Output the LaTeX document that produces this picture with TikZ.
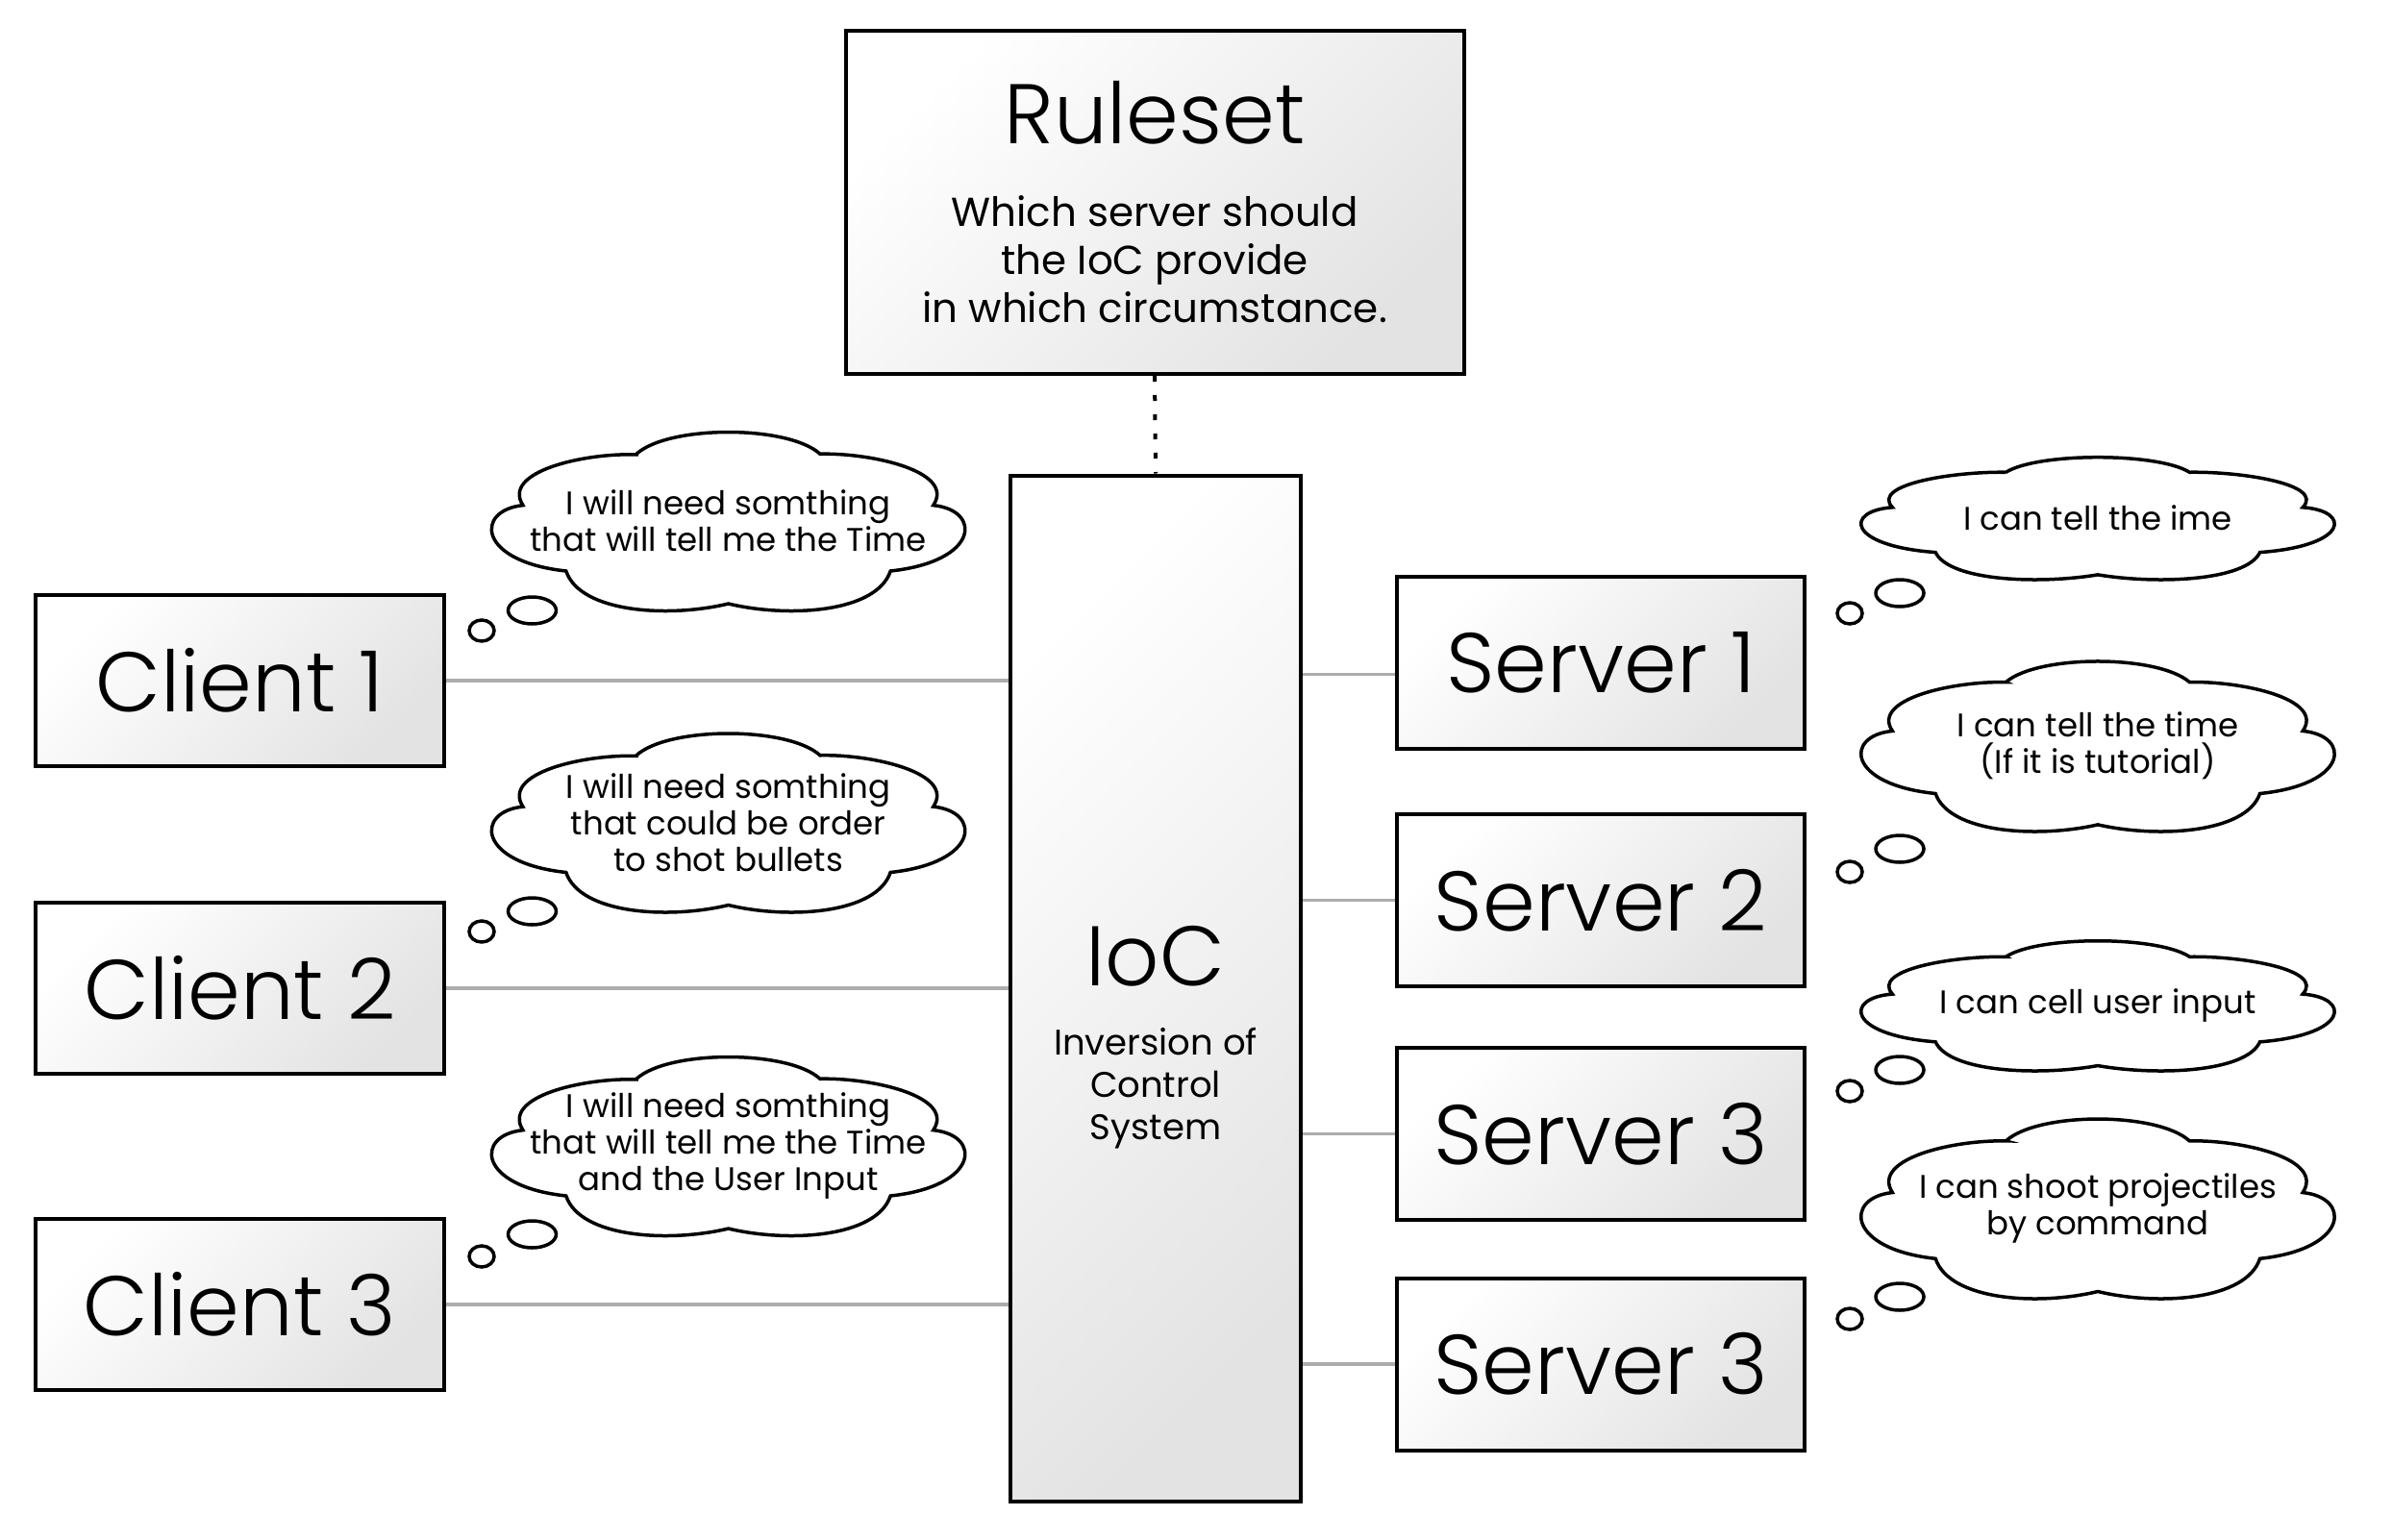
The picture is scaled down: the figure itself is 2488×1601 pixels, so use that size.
\documentclass[tikz,border=0pt]{standalone}
\usepackage{fontspec}
\setmainfont{Poppins}
\IfFontExistsTF{Poppins-Light.ttf}{\newfontfamily\thinfont{Poppins-Light.ttf}}{%
  \IfFontExistsTF{Poppins-Light.otf}{\newfontfamily\thinfont{Poppins-Light.otf}}{%
    \newfontfamily\thinfont{Poppins}}}
\usetikzlibrary{shapes.symbols}

\begin{document}
\begin{tikzpicture}[x=1pt, y=-1pt,
    box/.style={draw, line width=4pt, top color=white, bottom color=black!11, shading angle=45, inner sep=0pt, font=\thinfont\fontsize{88}{96}\selectfont},
    pics/thought/.style 2 args={code={
      \draw[line width=3.5pt, fill=white, xscale=#1, yscale=-#2]
        (-0.384,0.746) .. controls (-0.25,1.07) and (0.25,1.07) .. (0.383,0.746)
        .. controls (0.6,0.76) and (0.95,0.55) .. (0.856,0.175)
        .. controls (1.06,0.12) and (1.05,-0.45) .. (0.677,-0.556)
        .. controls (0.62,-1.02) and (0.25,-1.08) .. (0,-0.92)
        .. controls (-0.25,-1.08) and (-0.62,-1.02) .. (-0.678,-0.556)
        .. controls (-1.05,-0.45) and (-1.06,0.12) .. (-0.858,0.175)
        .. controls (-0.95,0.55) and (-0.6,0.76) .. cycle;
    }},
    bubble/.style={draw, line width=3.5pt, fill=white},
    wire/.style={draw=black!32, line width=3.5pt},
    dotline/.style={line width=4pt, dash pattern=on 6pt off 14pt},
    saying/.style={align=center, inner sep=0pt, font=\fontsize{34}{38}\selectfont}]

  \path[fill=white, use as bounding box] (0,0) rectangle (2488,1601);

  % ruleset and the ioc
  \node[box, minimum width=643pt, minimum height=357pt] (rules) at (1201,210.5) {};
  \node[anchor=base, inner sep=0pt, font=\thinfont\fontsize{88}{96}\selectfont] (rulestitle) at (1201,149) {Ruleset};
  \node[anchor=north, align=center, inner sep=0pt, font=\fontsize{42}{50}\selectfont] (rulestext) at (1201,203) {Which server should\\the IoC provide\\in which circumstance.};

  \node[box, minimum width=302pt, minimum height=1067pt] (ioc) at (1202,1028) {};
  \node[anchor=base, inner sep=0pt, font=\thinfont\fontsize{88}{96}\selectfont] (ioctitle) at (1202,1025) {IoC};
  \node[anchor=north, align=center, inner sep=0pt, font=\fontsize{37}{44}\selectfont] (ioctext) at (1202,1069) {Inversion of\\Control\\System};

  \draw[dotline] (rules.south) -- (ioc.north);

  % clients
  \node[box, minimum width=425pt, minimum height=178pt] (client1) at (249.5,708) {Client 1};
  \node[box, minimum width=425pt, minimum height=178pt] (client2) at (249.5,1028) {Client 2};
  \node[box, minimum width=425pt, minimum height=178pt] (client3) at (249.5,1357) {Client 3};

  \draw[wire] (client1.east) -- (client1.east -| ioc.west);
  \draw[wire] (client2.east) -- (client2.east -| ioc.west);
  \draw[wire] (client3.east) -- (client3.east -| ioc.west);

  % servers
  \node[box, minimum width=424pt, minimum height=179pt] (server1) at (1665,689.5) {Server 1};
  \node[box, minimum width=424pt, minimum height=179pt] (server2) at (1665,936.7) {Server 2};
  \node[box, minimum width=424pt, minimum height=179pt] (server3) at (1665,1179.5) {Server 3};
  \node[box, minimum width=424pt, minimum height=179pt] (server4) at (1665,1419) {Server 3};

  \coordinate (s1in) at ([yshift=-12pt]server1.west);
  \draw[wire] (ioc.east |- s1in) -- (s1in);
  \draw[wire] (ioc.east |- server2.west) -- (server2.west);
  \draw[wire] (ioc.east |- server3.west) -- (server3.west);
  \draw[wire] (ioc.east |- server4.west) -- (server4.west);

  % thoughts of the clients
  \pic at (757.6,542) {thought={249}{93.5}};
  \node[saying] (ask1) at (757.6,542) {I will need somthing\\that will tell me the Time};
  \pic at (757.6,855.5) {thought={249}{93.5}};
  \node[saying] (ask2) at (757.6,855.5) {I will need somthing\\that could be order\\to shot bullets};
  \pic at (757.6,1192) {thought={249}{93.5}};
  \node[saying] (ask3) at (757.6,1192) {I will need somthing\\that will tell me the Time\\and the User Input};

  \draw[bubble] (501,656) ellipse [x radius=13pt, y radius=11pt];
  \draw[bubble] (553.5,635) ellipse [x radius=25pt, y radius=14pt];
  \draw[bubble] (501,969) ellipse [x radius=13pt, y radius=11pt];
  \draw[bubble] (553.5,948) ellipse [x radius=25pt, y radius=14pt];
  \draw[bubble] (501,1307) ellipse [x radius=13pt, y radius=11pt];
  \draw[bubble] (553.5,1284) ellipse [x radius=25pt, y radius=14pt];

  % thoughts of the servers
  \pic at (2182,539) {thought={249}{64}};
  \node[saying] (offer1) at (2182,539) {I can tell the ime};
  \pic at (2182,776) {thought={249}{89}};
  \node[saying] (offer2) at (2182,776) {I can tell the time\\(If it is tutorial)};
  \pic at (2182,1046) {thought={249}{68}};
  \node[saying] (offer3) at (2182,1046) {I can cell user input};
  \pic at (2182,1257) {thought={249}{94}};
  \node[saying] (offer4) at (2182,1257) {I can shoot projectiles\\by command};

  \draw[bubble] (1924,638) ellipse [x radius=13pt, y radius=11pt];
  \draw[bubble] (1976,617) ellipse [x radius=25pt, y radius=14pt];
  \draw[bubble] (1924,907) ellipse [x radius=13pt, y radius=11pt];
  \draw[bubble] (1976,883) ellipse [x radius=25pt, y radius=14pt];
  \draw[bubble] (1924,1135) ellipse [x radius=13pt, y radius=11pt];
  \draw[bubble] (1976,1113) ellipse [x radius=25pt, y radius=14pt];
  \draw[bubble] (1924,1372) ellipse [x radius=13pt, y radius=11pt];
  \draw[bubble] (1976,1349) ellipse [x radius=25pt, y radius=14pt];

\end{tikzpicture}
\end{document}
